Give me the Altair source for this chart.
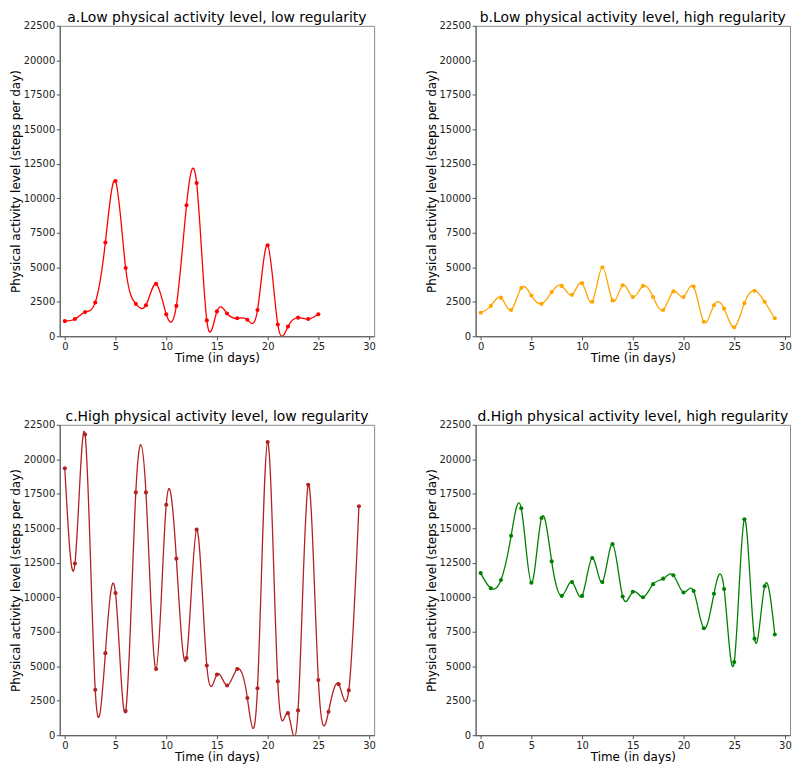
import altair as alt
import pandas as pd

days_a = list(range(0, 26))
steps_a = [1100, 1250, 1750, 2450, 6800, 11250, 4950, 2350, 2250, 3800,
           1600, 2200, 9500, 11100, 1150, 1800, 1650, 1300, 1200, 1900,
           6600, 850, 700, 1350, 1250, 1600]

days_b = list(range(0, 30))
steps_b = [1700, 2200, 2800, 1900, 3500, 2950, 2350, 3200, 3650, 3000,
           3850, 2500, 5000, 2600, 3700, 2850, 3650, 2850, 1900, 3250,
           2850, 3600, 1050, 2250, 2000, 650, 2400, 3300, 2500, 1300]

days_c = list(range(0, 30))
steps_c = [19350, 12450, 21800, 3300, 5950, 10300, 1750, 17600, 17600, 4800,
           16700, 12800, 5600, 14900, 5050, 4400, 3600, 4800, 2700, 3400,
           21250, 3900, 1600, 1800, 18150, 4000, 1700, 3700, 3250, 16600]

days_d = list(range(0, 30))
steps_d = [11750, 10650, 11250, 14450, 16450, 11050, 15750, 12600, 10100, 11100,
           10100, 12850, 11100, 13850, 10050, 10400, 10000, 10950, 11350, 11600,
           10350, 10450, 7750, 10250, 10600, 5300, 15650, 7000, 10800, 7300]

titles = ["a.Low physical activity level, low regularity",
          "b.Low physical activity level, high regularity",
          "c.High physical activity level, low regularity",
          "d.High physical activity level, high regularity"]
colors = ["#ff0000", "#ffa500", "#b22222", "#008000"]

x_ticks = [0, 5, 10, 15, 20, 25, 30]
y_ticks = [0, 2500, 5000, 7500, 10000, 12500, 15000, 17500, 20000, 22500]

W, H = 316, 312


def panel(days, steps, title, color):
    df = pd.DataFrame({"day": days, "steps": steps})
    xenc = alt.X("day:Q", title="Time (in days)",
                 scale=alt.Scale(domain=[-0.5, 30.5], nice=False, zero=False),
                 axis=alt.Axis(values=x_ticks, grid=False, tickSize=3.5,
                               labelPadding=1.5, titlePadding=1, labelFlush=False))
    yenc = alt.Y("steps:Q", title="Physical activity level (steps per day)",
                 scale=alt.Scale(domain=[0, 22500], nice=False),
                 axis=alt.Axis(values=y_ticks, grid=False, tickSize=3.5, format="d",
                               labelPadding=1.5, titlePadding=1, labelFlush=False))
    base = alt.Chart(df).encode(x=xenc, y=yenc)
    line = base.mark_line(color=color, strokeWidth=1.3, interpolate="natural", clip=True)
    pts = base.mark_circle(color=color, size=17, opacity=1, clip=True)
    return alt.layer(line, pts).properties(
        width=W, height=H,
        title=alt.TitleParams(title, fontSize=14, fontWeight="normal", color="#000",
                              font="DejaVu Sans", offset=-4))


pa = panel(days_a, steps_a, titles[0], colors[0])
pb = panel(days_b, steps_b, titles[1], colors[1])
pc = panel(days_c, steps_c, titles[2], colors[2])
pd_ = panel(days_d, steps_d, titles[3], colors[3])

chart = alt.vconcat(
    alt.hconcat(pa, pb, spacing=48),
    alt.hconcat(pc, pd_, spacing=48),
    spacing=45,
).properties(padding=0).configure_view(
    stroke="#888", strokeWidth=1
).configure_axis(
    labelFont="DejaVu Sans", titleFont="DejaVu Sans",
    labelFontSize=10, titleFontSize=12, titleFontWeight="normal",
    labelColor="#222", titleColor="#000",
    domainColor="#555", tickColor="#555", domainWidth=1, tickWidth=1,
)

chart.save("out.html", embed_options={"renderer": "svg", "actions": False})
